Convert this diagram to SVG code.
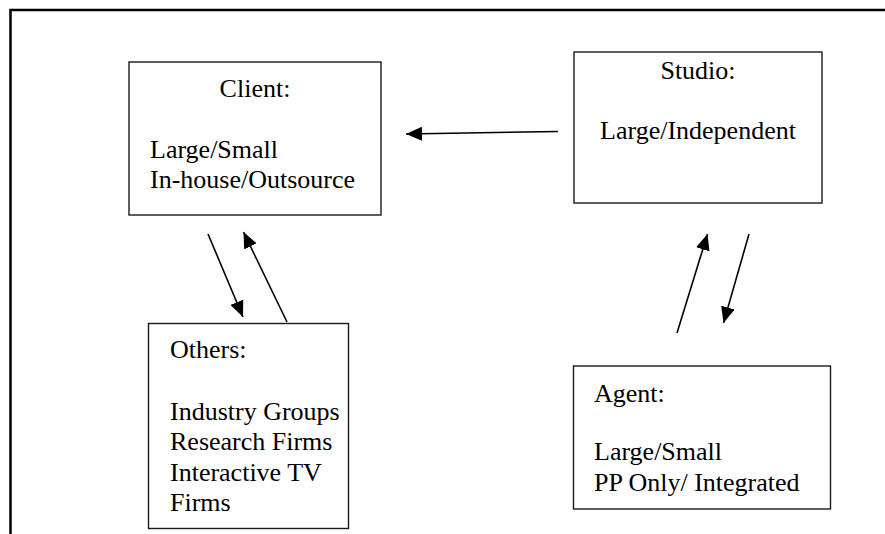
<svg xmlns="http://www.w3.org/2000/svg" width="885" height="534" viewBox="0 0 885 534">
<style>
.box{fill:#fff;stroke:#1a1a1a;stroke-width:1.4}
.t{font-family:"Liberation Serif","Times New Roman",serif;font-size:26px;fill:#000}
.c{text-anchor:middle}
.con{stroke:#000;stroke-width:1.6;fill:none;marker-end:url(#ah)}
.frame{stroke:#000;stroke-width:2.5;fill:none}
</style>
<defs>
<marker id="ah" markerUnits="userSpaceOnUse" markerWidth="18" markerHeight="14" viewBox="0 0 18 14" refX="16" refY="7" orient="auto">
<path d="M0,0 L16,7 L0,14 z" fill="#000"/>
</marker>
</defs>
<rect width="885" height="534" fill="#fff"/>
<path class="frame" d="M10.5,534 L10.5,10 L885,10"/>
<g id="client">
<rect class="box" x="129" y="62" width="252" height="153"/>
<text class="t c" x="255" y="97">Client:</text>
<text class="t" x="150" y="158">Large/Small</text>
<text class="t" x="150" y="188">In-house/Outsource</text>
</g>
<g id="studio">
<rect class="box" x="574" y="52" width="248" height="151"/>
<text class="t c" x="698" y="79">Studio:</text>
<text class="t c" x="698" y="139">Large/Independent</text>
</g>
<g id="others">
<rect class="box" x="148.5" y="323.5" width="200" height="205"/>
<text class="t" x="170" y="358">Others:</text>
<text class="t" x="170" y="420">Industry Groups</text>
<text class="t" x="170" y="450">Research Firms</text>
<text class="t" x="170" y="481">Interactive TV</text>
<text class="t" x="170" y="511">Firms</text>
</g>
<g id="agent">
<rect class="box" x="573.5" y="366" width="257" height="143"/>
<text class="t" x="594" y="402">Agent:</text>
<text class="t" x="594" y="460">Large/Small</text>
<text class="t" x="594" y="491">PP Only/ Integrated</text>
</g>
<g id="connectors">
<line class="con" x1="558" y1="131.5" x2="406" y2="134"/>
<line class="con" x1="208" y1="234" x2="243" y2="317"/>
<line class="con" x1="287" y1="322" x2="243.5" y2="232"/>
<line class="con" x1="677" y1="333" x2="707.5" y2="234"/>
<line class="con" x1="749" y1="234" x2="723.5" y2="323"/>
</g>
</svg>
